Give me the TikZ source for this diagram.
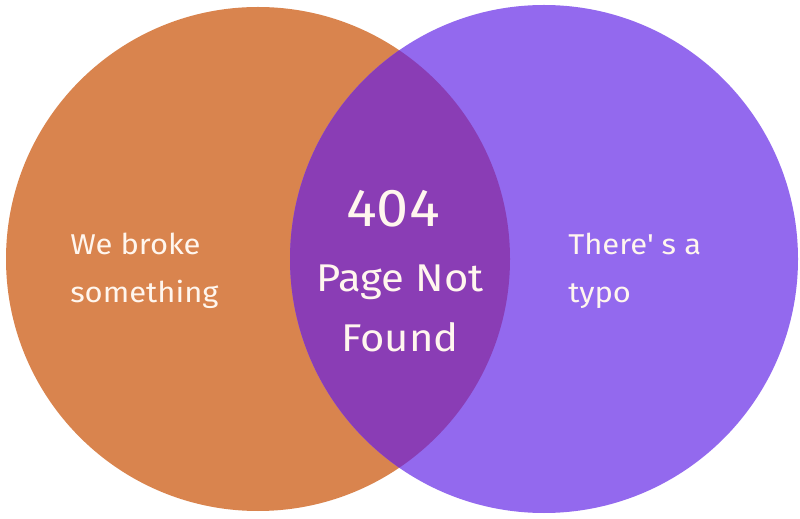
\documentclass[tikz,border=0pt]{standalone}
\usepackage{fontspec}
\setmainfont[FakeStretch=1.08]{Fira Sans}
\usepackage{tikz}
\usetikzlibrary{positioning}
\definecolor{vennOrange}{RGB}{217,132,78}
\definecolor{vennPurple}{RGB}{147,105,238}
\definecolor{vennOverlap}{RGB}{138,61,181}
\definecolor{vennText}{RGB}{255,246,238}
\tikzset{
  setlabel/.style={text=vennText, align=left, inner sep=0pt,
    font=\fontsize{21.5}{36}\selectfont},
  midlabel/.style={text=vennText, align=center, inner sep=0pt,
    font=\fontsize{29}{45}\selectfont}
}

\begin{document}
\begin{tikzpicture}[x=0.75pt,y=0.75pt]
    \useasboundingbox (0,0) rectangle (800,518);
    \fill[white] (0,0) rectangle (800,518);
    % the two sets
    \fill[vennOrange] (258,259) circle (252);
    \fill[vennPurple] (544,259) circle (254);
    % overlap
    \begin{scope}
        \clip (258,259) circle (252);
        \fill[vennOverlap] (544,259) circle (254);
    \end{scope}
    \node[setlabel, anchor=base west] (broke) at (70,215) {We broke\\something};
    \node[setlabel, anchor=base west] (typo) at (568,215) {There\textquotesingle{} s a\\typo};
    \node[text=vennText, inner sep=0pt, anchor=base,
          font=\fontsize{40}{40}\selectfont] (code) at (393,291) {404};
    \node[midlabel, anchor=base] (msg) at (400,166) {Page Not\\Found};
\end{tikzpicture}
\end{document}
